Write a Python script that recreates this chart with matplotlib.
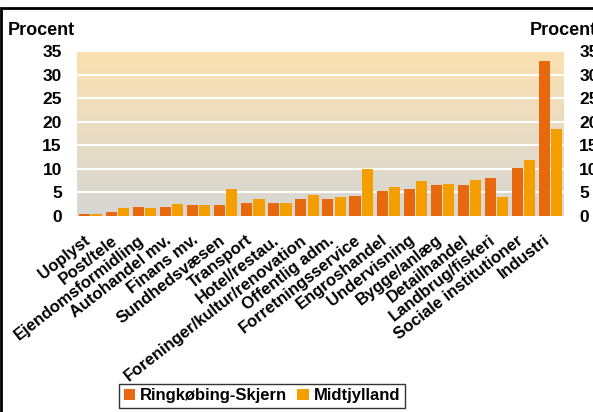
#!/usr/bin/env python3
"""
Employment by industry: Ringkøbing-Skjern vs Midtjylland, 2005.
Grouped bar chart with a gradient plot area and two mirrored y axes.
"""

import numpy as np
import matplotlib.pyplot as plt
import matplotlib.transforms as mtransforms
from matplotlib.patches import Rectangle

plt.rcParams['font.family'] = ['Liberation Sans', 'DejaVu Sans']
plt.rcParams['font.weight'] = 'bold'

# Data (percent of employment)
categories = ['Uoplyst', 'Post/tele', 'Ejendomsformidling', 'Autohandel mv.',
              'Finans mv.', 'Sundhedsvæsen', 'Transport', 'Hotel/restau.',
              'Foreninger/kultur/renovation', 'Offentlig adm.',
              'Forretningsservice', 'Engroshandel', 'Undervisning',
              'Bygge/anlæg', 'Detailhandel', 'Landbrug/fiskeri',
              'Sociale institutioner', 'Industri']
ringkobing = [0.4, 0.85, 1.9, 1.9, 2.3, 2.3, 2.8, 2.8, 3.6, 3.5,
              4.25, 5.3, 5.7, 6.6, 6.6, 8.1, 10.2, 32.8]
midtjylland = [0.4, 1.7, 1.7, 2.55, 2.3, 5.7, 3.6, 2.8, 4.4, 4.0,
               10.0, 6.2, 7.45, 6.8, 7.65, 4.0, 11.9, 18.5]
yticks = [0, 5, 10, 15, 20, 25, 30, 35]

title = 'RINGKØBING-SKJERN OG MIDTJYLLAND: 2005'

col_rs = '#E8680E'
col_mj = '#F49E00'

fig = plt.figure(figsize=(5.93, 4.12), dpi=100)
ax = fig.add_axes([0.130, 0.476, 0.821, 0.400])

x = np.arange(len(categories))
w = 0.41
ax.bar(x - w / 2 - 0.02, ringkobing, w, color=col_rs, zorder=3, label='Ringkøbing-Skjern')
ax.bar(x + w / 2 + 0.02, midtjylland, w, color=col_mj, zorder=3, label='Midtjylland')

ax.set_xlim(-0.5, len(categories) - 0.5)
ax.set_ylim(0, 35)

# gradient background: light orange at the top, grey at the bottom
top = np.array([251, 225, 176]) / 255
bot = np.array([214, 215, 213]) / 255
t = np.linspace(0, 1, 256)[:, None]
grad = (top * (1 - t) + bot * t)[:, None, :]
ax.imshow(grad, extent=(-0.5, len(categories) - 0.5, 0, 35), aspect='auto',
          zorder=0, origin='upper')

for v in yticks[1:]:
    ax.axhline(v, color='white', lw=1.5, zorder=1)

for s in ax.spines.values():
    s.set_visible(False)

ax.set_yticks(yticks)
ax.set_yticklabels([str(v) for v in yticks], fontsize=12.5, fontweight='bold')
ax.tick_params(axis='y', length=0, pad=11)
ax.set_xticks(x)
ax.set_xticklabels(categories, rotation=38, ha='right', rotation_mode='anchor',
                   fontsize=12, fontweight='bold')
ax.tick_params(axis='x', length=0, pad=12)
# nudge the slanted labels a little to the left
shift = mtransforms.ScaledTranslation(-7 / 100, 0, fig.dpi_scale_trans)
for lab in ax.get_xticklabels():
    lab.set_transform(lab.get_transform() + shift)

ax2 = ax.twinx()
ax2.set_ylim(0, 35)
ax2.set_yticks(yticks)
ax2.set_yticklabels([str(v) for v in yticks], fontsize=12.5, fontweight='bold')
ax2.tick_params(axis='y', length=0, pad=11)
for s in ax2.spines.values():
    s.set_visible(False)

fig.text(0.013, 0.925, 'Procent', fontsize=13, fontweight='bold', va='center')
fig.text(0.893, 0.925, 'Procent', fontsize=13, fontweight='bold', va='center')

fig.text(0.015, 1.014, title, fontsize=11.5, fontweight='bold', va='center')

# frame around the chart
fig.add_artist(Rectangle((0.002, -0.1), 1.2, 1.1 - 8 / 412, transform=fig.transFigure,
                         fill=False, ec='black', lw=2, clip_on=False))

leg = fig.legend(loc='center', bbox_to_anchor=(0.442, 0.039), ncol=2,
                 prop={'size': 12, 'weight': 'bold'}, frameon=True, fancybox=False,
                 edgecolor='black', handlelength=0.7, handleheight=0.7,
                 handletextpad=0.3, columnspacing=0.6, borderpad=0.25)
leg.get_frame().set_linewidth(1.0)

fig.savefig('out.png', dpi=100)
